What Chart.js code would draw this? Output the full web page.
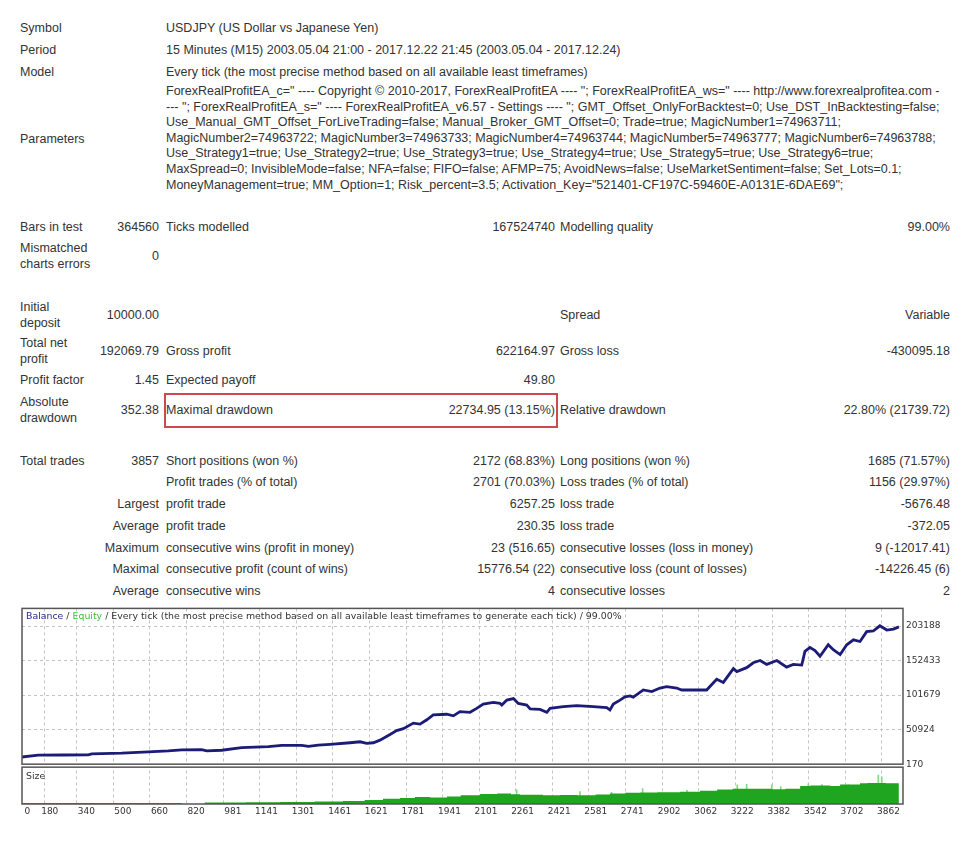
<!DOCTYPE html>
<html>
<head>
<meta charset="utf-8">
<title>Strategy Tester Report</title>
<script src="https://cdn.jsdelivr.net/npm/chart.js@4.4.1/dist/chart.umd.min.js"></script>
<style>
  body { margin:0; background:#fff; width:960px; height:848px; position:relative; overflow:hidden;
         font-family:"Liberation Sans", Arial, sans-serif; font-size:12.5px; color:#333; }
  .t { position:absolute; white-space:pre; line-height:16px; }
  #box { position:absolute; left:164px; top:393px; width:390px; height:31px; border:2px solid #c94b4b; }
  #params { position:absolute; left:166px; top:84px; line-height:15.6px; white-space:nowrap; }
  #wrap { position:absolute; left:0; top:600px; width:960px; height:222px; }
  .cap { position:absolute; font-family:"DejaVu Sans", sans-serif; font-size:9.4px; line-height:12px;
         white-space:nowrap; color:#333; }
</style>
</head>
<body>
<div id="report"></div>
<div id="params">
ForexRealProfitEA_c=" ---- Copyright © 2010-2017, ForexRealProfitEA ---- "; ForexRealProfitEA_ws=" ---- http://www.forexrealprofitea.com -<br>
--- "; ForexRealProfitEA_s=" ---- ForexRealProfitEA_v6.57 - Settings ---- "; GMT_Offset_OnlyForBacktest=0; Use_DST_InBacktesting=false;<br>
Use_Manual_GMT_Offset_ForLiveTrading=false; Manual_Broker_GMT_Offset=0; Trade=true; MagicNumber1=74963711;<br>
MagicNumber2=74963722; MagicNumber3=74963733; MagicNumber4=74963744; MagicNumber5=74963777; MagicNumber6=74963788;<br>
Use_Strategy1=true; Use_Strategy2=true; Use_Strategy3=true; Use_Strategy4=true; Use_Strategy5=true; Use_Strategy6=true;<br>
MaxSpread=0; InvisibleMode=false; NFA=false; FIFO=false; AFMP=75; AvoidNews=false; UseMarketSentiment=false; Set_Lots=0.1;<br>
MoneyManagement=true; MM_Option=1; Risk_percent=3.5; Activation_Key="521401-CF197C-59460E-A0131E-6DAE69";
</div>
<div id="box"></div>
<div id="wrap">
  <canvas id="graph" width="960" height="222"></canvas>
  <div class="cap" style="left:26px; top:10px;"><span style="color:#2a2a8a">Balance</span> / <span style="color:#3cbf3c">Equity</span> / Every tick (the most precise method based on all available least timeframes to generate each tick) / 99.00%</div>
  <div class="cap" style="left:26px; top:170px;">Size</div>
</div>

<script>
// balance curve (trade number -> balance)
const balTrades = [0, 92, 200, 311, 326, 457, 574, 661, 720, 807, 829, 895, 982, 1099, 1157, 1245, 1274, 1317,
  1369, 1456, 1500, 1529, 1558, 1587, 1631, 1660, 1689, 1733, 1762, 1792, 1820, 1879, 1908, 1937, 1981, 2010,
  2039, 2083, 2112, 2120, 2142, 2171, 2192, 2229, 2244, 2287, 2317, 2331, 2389, 2448, 2520, 2579, 2593, 2608,
  2637, 2659, 2681, 2695, 2739, 2776, 2812, 2841, 2885, 2907, 3016, 3060, 3089, 3133, 3148, 3191, 3220, 3250,
  3279, 3323, 3366, 3395, 3432, 3446, 3468, 3490, 3512, 3548, 3570, 3600, 3629, 3658, 3687, 3716, 3745, 3774,
  3804, 3833, 3857];
const balValues = [10000, 13460, 13700, 13900, 15340, 16350, 18230, 19680, 21120, 21560, 19680, 20690, 24450,
  25890, 27910, 27910, 26470, 28350, 29360, 31670, 33120, 30800, 31670, 35570, 43810, 49590, 52480, 60570,
  59130, 65480, 72710, 73580, 71260, 77480, 76470, 82250, 88600, 90920, 89470, 87160, 94380, 96700, 89470,
  87160, 81380, 80800, 76470, 82250, 84700, 86150, 84700, 83260, 79930, 88600, 94380, 99150, 100600, 98720,
  109270, 106810, 112160, 114040, 112160, 109270, 109270, 125160, 120390, 140620, 136290, 142070, 149300,
  152620, 146840, 152620, 142940, 146840, 145830, 166060, 171840, 167070, 158830, 175740, 168510, 161290,
  175740, 182960, 180510, 194960, 195970, 203630, 197410, 198860, 202070];

// position size (lots)
const sizeTrades = [0, 720, 820, 896, 1000, 1150, 1300, 1425, 1520, 1600, 1675, 1740, 1806, 1880, 1940, 2025,
  2100, 2160, 2200, 2300, 2375, 2450, 2530, 2593, 2660, 2725, 2800, 2900, 2987, 3062, 3130, 3200, 3300, 3360,
  3425, 3470, 3556, 3600, 3687, 3720, 3800, 3857];
const sizeLots = [0, 0.5, 0, 0.7, 0.8, 0.9, 1.0, 1.3, 1.5, 2.0, 2.7, 3.0, 3.5, 3.3, 3.8, 4.4, 5.1, 5.4, 5.0,
  4.7, 4.5, 4.6, 4.5, 4.8, 5.4, 5.7, 5.9, 6.0, 6.2, 6.7, 7.4, 7.7, 7.7, 7.5, 7.8, 9.1, 9.4, 9.2, 9.9, 10.5,
  10.7, 10.5];
const spikeTrades = [2185, 2462, 2600, 2736, 2930, 3150, 3191, 3301, 3340, 3461, 3520, 3636, 3767, 3782];
const spikeLots = [7.2, 6.3, 6.0, 7.8, 7.0, 9.7, 10.0, 9.8, 8.8, 10.3, 9.9, 9.7, 14.7, 13.8];

const yTicks = [170, 50924, 101679, 152433, 203188];
const xTicks = [0, 180, 340, 500, 660, 820, 981, 1141, 1301, 1461, 1621, 1781, 1941, 2101, 2261, 2421, 2581,
  2741, 2902, 3062, 3222, 3382, 3542, 3702, 3862];

// report table: [centre y, label, value, label, value, label, value]
const rows = [
  [227, 'Bars in test', '364560', 'Ticks modelled', '167524740', 'Modelling quality', '99.00%'],
  [256, 'Mismatched\ncharts errors', '0', '', '', '', ''],
  [315, 'Initial\ndeposit', '10000.00', '', '', 'Spread', 'Variable'],
  [351, 'Total net\nprofit', '192069.79', 'Gross profit', '622164.97', 'Gross loss', '-430095.18'],
  [380, 'Profit factor', '1.45', 'Expected payoff', '49.80', '', ''],
  [410, 'Absolute\ndrawdown', '352.38', 'Maximal drawdown', '22734.95 (13.15%)', 'Relative drawdown', '22.80% (21739.72)'],
  [461, 'Total trades', '3857', 'Short positions (won %)', '2172 (68.83%)', 'Long positions (won %)', '1685 (71.57%)'],
  [482, '', '', 'Profit trades (% of total)', '2701 (70.03%)', 'Loss trades (% of total)', '1156 (29.97%)'],
  [504, '', 'Largest', 'profit trade', '6257.25', 'loss trade', '-5676.48'],
  [526, '', 'Average', 'profit trade', '230.35', 'loss trade', '-372.05'],
  [548, '', 'Maximum', 'consecutive wins (profit in money)', '23 (516.65)', 'consecutive losses (loss in money)', '9 (-12017.41)'],
  [569, '', 'Maximal', 'consecutive profit (count of wins)', '15776.54 (22)', 'consecutive loss (count of losses)', '-14226.45 (6)'],
  [591, '', 'Average', 'consecutive wins', '4', 'consecutive losses', '2']
];
const header = [
  [28, 'Symbol', 'USDJPY (US Dollar vs Japanese Yen)'],
  [50, 'Period', '15 Minutes (M15) 2003.05.04 21:00 - 2017.12.22 21:45 (2003.05.04 - 2017.12.24)'],
  [72, 'Model', 'Every tick (the most precise method based on all available least timeframes)'],
  [139, 'Parameters', '']
];

const report = document.getElementById('report');
function put(text, y, left, right) {
  if (!text) return;
  const d = document.createElement('div');
  d.className = 't';
  d.textContent = text;
  const lines = text.split('\n').length;
  d.style.top = (y - 8 * lines) + 'px';
  if (left != null) d.style.left = left + 'px';
  else { d.style.right = (960 - right) + 'px'; d.style.textAlign = 'right'; }
  report.appendChild(d);
}
header.forEach(h => { put(h[1], h[0], 20); put(h[2], h[0], 166); });
rows.forEach(r => {
  put(r[1], r[0], 20);
  put(r[2], r[0], null, 159);
  put(r[3], r[0], 166);
  put(r[4], r[0], null, 555);
  put(r[5], r[0], 560);
  put(r[6], r[0], null, 950);
});

Chart.defaults.font.family = '"DejaVu Sans", sans-serif';
Chart.defaults.font.size = 9;
Chart.defaults.color = '#333';

const X_MIN = 21, X_MAX = 3875;
const GRID = '#c4c4c4';

// panel frames like the tester graph
const frame = {
  id: 'frame',
  afterDraw(chart) {
    const ctx = chart.ctx, a = chart.chartArea;
    const y = chart.scales.y, s = chart.scales.size;
    ctx.save();
    ctx.fillStyle = '#fff';
    ctx.fillRect(a.left - 1, y.bottom - 1.5, a.right - a.left + 2, 3);
    ctx.strokeStyle = '#555';
    ctx.lineWidth = 1.5;
    ctx.strokeRect(a.left, y.top, a.right - a.left, y.bottom - 1.5 - y.top);
    ctx.strokeRect(a.left, s.top + 1.5, a.right - a.left, s.bottom - s.top - 1.5);
    ctx.restore();
  }
};

new Chart(document.getElementById('graph'), {
  type: 'line',
  data: {
    datasets: [
      {
        label: 'Balance',
        data: balTrades.map((t, i) => ({ x: t, y: balValues[i] })),
        yAxisID: 'y',
        borderColor: '#1c1c78',
        borderWidth: 2.8,
        pointRadius: 0,
        tension: 0
      },
      {
        label: 'Size',
        data: sizeTrades.map((t, i) => ({ x: t, y: sizeLots[i] })),
        yAxisID: 'size',
        stepped: 'after',
        fill: 'origin',
        borderWidth: 0,
        backgroundColor: '#1fa51f',
        pointRadius: 0
      },
      {
        type: 'bar',
        label: 'Size peaks',
        data: spikeTrades.map((t, i) => ({ x: t, y: spikeLots[i] })),
        yAxisID: 'size',
        backgroundColor: '#7ddc7d',
        barThickness: 1,
        grouped: false
      }
    ]
  },
  options: {
    responsive: false,
    animation: false,
    layout: { padding: { left: 22, top: 5, right: 0, bottom: 0 } },
    plugins: { legend: { display: false }, tooltip: { enabled: false } },
    scales: {
      x: {
        type: 'linear', min: X_MIN, max: X_MAX, offset: false,
        afterBuildTicks: s => { s.ticks = xTicks.map(v => ({ value: v === 0 ? X_MIN + 36 : v })); },
        ticks: { autoSkip: false, maxRotation: 0, align: 'end', padding: 2,
                 callback: (v, i) => String(xTicks[i]) },
        grid: { drawTicks: false, color: c => c.index === 0 ? 'rgba(0,0,0,0)' : GRID },
        border: { display: false, dash: [3, 3] },
        afterFit: s => { s.height = 18; }
      },
      y: {
        position: 'right', stack: 'tester', stackWeight: 160, min: -1998, max: 229203,
        afterBuildTicks: s => { s.ticks = yTicks.map(v => ({ value: v })); },
        ticks: { padding: 3, callback: v => String(v) },
        grid: { drawTicks: false, color: c => c.tick && c.tick.value === 170 ? 'rgba(0,0,0,0)' : GRID },
        border: { display: false, dash: [3, 3] },
        afterFit: s => { s.width = 57; }
      },
      size: {
        position: 'right', stack: 'tester', stackWeight: 39, min: 0, max: 19.5,
        ticks: { display: false },
        grid: { display: false },
        border: { display: false },
        afterFit: s => { s.width = 57; }
      }
    }
  },
  plugins: [frame]
});
</script>
</body>
</html>
